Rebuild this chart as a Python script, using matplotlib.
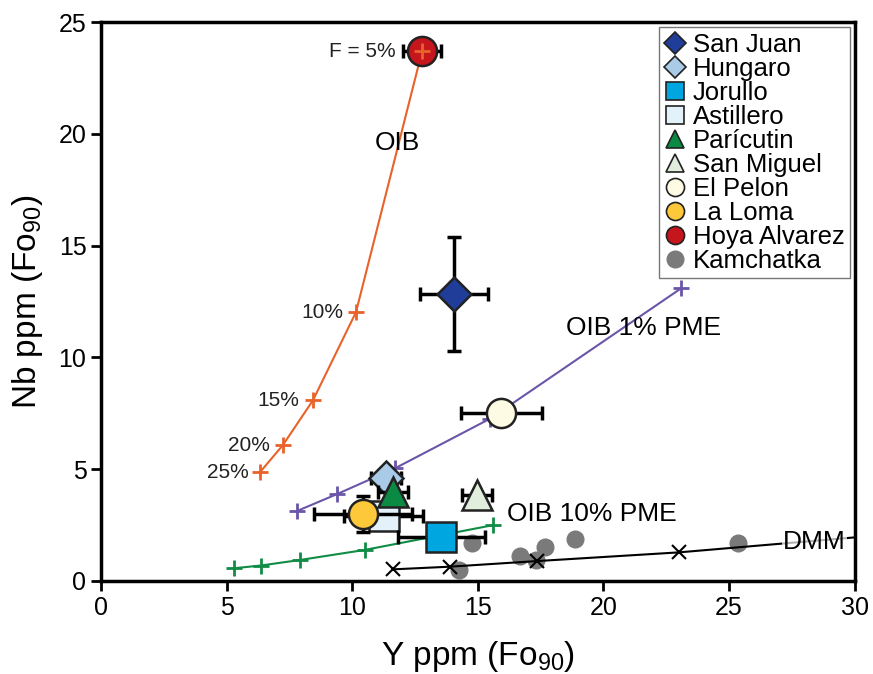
import numpy as np
import matplotlib.pyplot as plt

plt.rcParams['font.family'] = ['Liberation Sans', 'DejaVu Sans']
plt.rcParams['mathtext.fontset'] = 'custom'
plt.rcParams['mathtext.rm'] = 'Liberation Sans'
plt.rcParams['mathtext.it'] = 'Liberation Sans'

# melting curves
oib_y = [12.78, 10.15, 8.44, 7.24, 6.33]
oib_nb = [23.7, 12.03, 8.09, 6.08, 4.87]
oib_lbl = ['F = 5%', '10%', '15%', '20%', '25%']

pme1_y = [7.8, 9.4, 11.7, 15.5, 23.1]
pme1_nb = [3.13, 3.89, 5.04, 7.27, 13.1]

pme10_y = [5.29, 6.35, 7.92, 10.5, 15.61]
pme10_nb = [0.57, 0.69, 0.94, 1.39, 2.5]

dmm_y = [11.61, 13.89, 17.34, 23.0]
dmm_nb = [0.52, 0.64, 0.89, 1.28]
dmm_end = (30.0, 1.95)

kam_y = [14.25, 14.75, 16.67, 17.33, 17.67, 18.86, 25.36]
kam_nb = [0.49, 1.69, 1.12, 0.94, 1.53, 1.86, 1.71]

# samples: name, Y, Nb, xerr, yerr, marker, color
names = ['San Juan', 'Hungaro', 'Jorullo', 'Astillero', 'Parícutin',
         'San Miguel', 'El Pelon', 'La Loma', 'Hoya Alvarez']
s_y = [14.05, 11.33, 13.55, 11.26, 11.63, 14.95, 15.94, 10.44, 12.78]
s_nb = [12.85, 4.62, 1.98, 2.9, 4.0, 3.85, 7.5, 3.0, 23.7]
s_xerr = [1.35, 0.6, 1.72, 1.57, 0.6, 0.6, 1.6, 1.95, 0.76]
s_yerr = [2.55, 0, 0, 0, 0, 0, 0, 0.82, 0]
marks = ['D', 'D', 's', 's', '^', '^', 'o', 'o', 'o']
cols = ['#1f3d99', '#a9cbe8', '#00a6e0', '#e3f1fb', '#0b8a44',
        '#e1eedd', '#fdfbe3', '#fdc93a', '#c4161c']
msz = [17, 17, 22, 22, 21, 21, 21, 21, 21]

fig = plt.figure(figsize=(8.73, 6.74), dpi=100)
ax = fig.add_axes([0.1157, 0.138, 0.8633, 0.829])

orange = '#e8622a'
purple = '#6a55a8'
green = '#0f8c45'

ax.plot(kam_y, kam_nb, 'o', color='#7a7a7a', ms=12, zorder=2)
ax.plot(dmm_y + [dmm_end[0]], dmm_nb + [dmm_end[1]], '-', color='black', lw=1.5, zorder=3)
ax.plot(dmm_y, dmm_nb, 'x', color='black', ms=10, mew=1.5, zorder=3)
ax.plot(pme10_y, pme10_nb, '-', color=green, lw=1.5, zorder=3)
ax.plot(pme10_y, pme10_nb, '+', color=green, ms=11, mew=2, zorder=3)
ax.plot(pme1_y, pme1_nb, '-', color=purple, lw=1.5, zorder=3)
ax.plot(pme1_y, pme1_nb, '+', color=purple, ms=11, mew=2, zorder=3)
ax.plot(oib_y, oib_nb, '-', color=orange, lw=1.5, zorder=3)

order = [3, 7, 1, 4, 2, 5, 6, 0, 8]
for k, i in enumerate(order):
    z = 4 + 2 * k
    if s_xerr[i] or s_yerr[i]:
        ax.errorbar(s_y[i], s_nb[i], xerr=s_xerr[i], yerr=s_yerr[i] if s_yerr[i] else None,
                    fmt='none', ecolor='black', elinewidth=2.5, capsize=5, capthick=2.5, zorder=z)
    ax.plot(s_y[i], s_nb[i], marks[i], color=cols[i], ms=msz[i],
            mec='#222222', mew=1.8, zorder=z + 1)

ax.plot(oib_y, oib_nb, '+', color=orange, ms=11, mew=2, zorder=30)

# labels on OIB curve
lbl_dx = [-1.05, -0.5, -0.55, -0.5, -0.45]
for x, y, t, d in zip(oib_y, oib_nb, oib_lbl, lbl_dx):
    ax.text(x + d, y, t, ha='right', va='center', fontsize=15, color='#222222')

ax.text(11.8, 19.6, 'OIB', ha='center', va='center', fontsize=19)
ax.text(18.5, 11.3, 'OIB 1% PME', ha='left', va='center', fontsize=19)
ax.text(16.15, 3.0, 'OIB 10% PME', ha='left', va='center', fontsize=19)
ax.text(27.15, 1.75, 'DMM', ha='left', va='center', fontsize=19, zorder=3,
        bbox=dict(facecolor='white', edgecolor='none', pad=0.5, alpha=0.7))

# legend
leg_h = []
for i in range(9):
    h, = ax.plot([], [], marks[i], color=cols[i], ms=13 if marks[i] != 'D' else 11,
                 mec='#222222', mew=1.2)
    leg_h.append(h)
hk, = ax.plot([], [], 'o', color='#7a7a7a', ms=12)
leg_h.append(hk)
leg = ax.legend(leg_h, names + ['Kamchatka'], loc='upper right', fontsize=18.5,
                handlelength=0.8, handletextpad=0.3, labelspacing=0.0,
                borderpad=0.2, borderaxespad=0.2, frameon=True, fancybox=False,
                edgecolor='#777777', framealpha=1)
leg.get_frame().set_linewidth(1.0)
leg.set_zorder(40)

ax.set_xlim(0, 30)
ax.set_ylim(0, 25)
ax.set_xticks([0, 5, 10, 15, 20, 25, 30])
ax.set_yticks([0, 5, 10, 15, 20, 25])
ax.tick_params(labelsize=18, width=2, length=7, direction='out')
for s in ax.spines.values():
    s.set_linewidth(2.5)
ax.set_xlabel('Y ppm (Fo$_{90}$)', fontsize=24, labelpad=14)
ax.set_ylabel('Nb ppm (Fo$_{90}$)', fontsize=24, labelpad=10)

fig.savefig('out.png', dpi=100)
